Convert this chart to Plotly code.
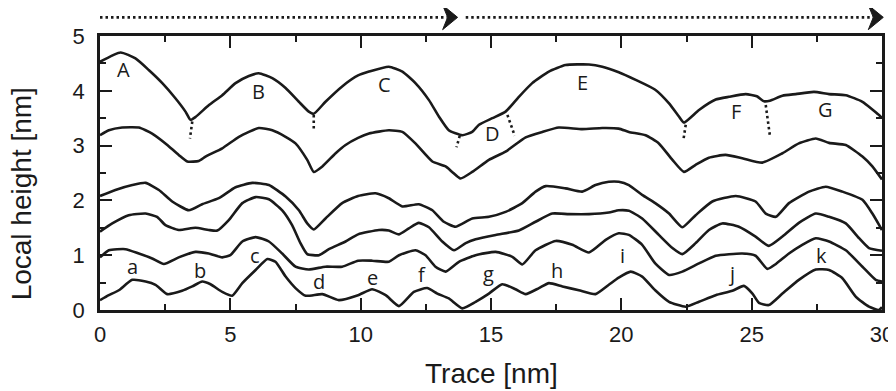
import plotly.graph_objects as go

# ---- data (nm) ----
x1 = [0.0, 0.79, 1.36, 1.87, 2.39, 2.90, 3.28, 3.47, 3.66, 4.18, 4.69, 5.20, 5.71, 6.09, 6.61, 7.12, 7.63, 8.01, 8.20, 8.65, 9.29, 9.9, 10.32, 11.08, 11.6, 12.1, 12.62, 13.0, 13.38, 13.9, 14.28, 14.54, 15.05, 15.56, 16.07, 16.58, 17.22, 17.86, 18.76, 19.27, 19.9, 20.55, 21.3, 21.83, 22.21, 22.4, 22.98, 23.62, 24.13, 24.77, 25.2, 25.47, 25.7, 26.18, 26.69, 27.39, 27.97, 28.61, 29.25, 29.88, 30.0]
y1 = [4.53, 4.70, 4.59, 4.38, 4.14, 3.86, 3.62, 3.47, 3.52, 3.74, 3.92, 4.14, 4.27, 4.32, 4.23, 4.05, 3.80, 3.62, 3.58, 3.80, 4.08, 4.28, 4.35, 4.44, 4.35, 4.14, 3.83, 3.53, 3.28, 3.19, 3.25, 3.38, 3.50, 3.62, 3.89, 4.14, 4.35, 4.47, 4.48, 4.44, 4.34, 4.20, 4.02, 3.77, 3.53, 3.42, 3.65, 3.84, 3.89, 3.94, 3.90, 3.81, 3.82, 3.91, 3.94, 3.98, 3.94, 3.92, 3.80, 3.56, 3.50]

x2 = [0.0, 0.34, 0.85, 1.49, 2.0, 2.51, 3.02, 3.35, 3.79, 4.05, 4.69, 5.33, 6.09, 6.61, 7.12, 7.50, 7.95, 8.2, 8.53, 9.04, 9.42, 9.9, 10.32, 11.08, 11.6, 12.1, 12.75, 13.26, 13.51, 13.83, 14.28, 14.92, 15.56, 16.33, 16.97, 17.6, 18.5, 19.27, 19.9, 20.29, 20.93, 21.44, 21.96, 22.4, 22.85, 23.36, 24.0, 24.64, 25.41, 26.18, 26.81, 27.46, 27.97, 28.61, 29.25, 29.63, 30.0]
y2 = [3.19, 3.28, 3.33, 3.33, 3.22, 3.04, 2.83, 2.71, 2.72, 2.80, 2.95, 3.16, 3.32, 3.28, 3.16, 3.04, 2.74, 2.52, 2.62, 2.86, 3.01, 3.14, 3.22, 3.28, 3.25, 3.04, 2.71, 2.62, 2.52, 2.40, 2.52, 2.74, 2.89, 3.15, 3.25, 3.33, 3.30, 3.32, 3.31, 3.25, 3.19, 3.04, 2.74, 2.52, 2.65, 2.78, 2.83, 2.77, 2.69, 2.86, 3.04, 3.13, 3.05, 3.01, 2.80, 2.62, 2.38]

x3 = [0.0, 0.59, 1.24, 1.75, 2.26, 2.77, 3.41, 3.92, 4.56, 5.2, 5.84, 6.48, 7.12, 7.63, 7.95, 8.2, 8.65, 9.29, 9.9, 10.57, 11.08, 11.6, 12.23, 12.75, 13.19, 13.64, 14.28, 14.92, 15.56, 16.2, 16.71, 17.1, 17.86, 18.5, 19.01, 19.52, 19.9, 20.29, 20.8, 21.3, 21.83, 22.34, 22.85, 23.49, 24.39, 25.15, 25.54, 25.93, 26.43, 27.2, 27.84, 28.48, 29.25, 29.63, 30.0]
y3 = [2.08, 2.19, 2.28, 2.32, 2.19, 1.98, 1.82, 1.93, 2.04, 2.24, 2.32, 2.28, 2.07, 1.82, 1.58, 1.47, 1.67, 1.95, 2.08, 2.13, 2.04, 1.89, 1.93, 1.82, 1.61, 1.52, 1.67, 1.70, 1.79, 1.95, 2.16, 2.26, 2.22, 2.16, 2.28, 2.34, 2.34, 2.28, 2.10, 1.95, 1.76, 1.51, 1.73, 1.98, 2.08, 1.98, 1.76, 1.70, 1.95, 2.16, 2.25, 2.16, 2.01, 1.76, 1.46]

x4 = [0.0, 0.47, 1.1, 1.75, 2.19, 2.51, 3.02, 3.66, 4.17, 4.5, 4.94, 5.46, 5.97, 6.48, 6.99, 7.37, 7.69, 7.95, 8.4, 8.78, 9.42, 9.9, 10.7, 11.08, 11.47, 11.85, 12.23, 12.62, 13.13, 13.58, 14.03, 14.41, 15.18, 16.07, 16.71, 17.35, 17.99, 18.76, 19.52, 19.9, 20.29, 20.8, 21.44, 21.96, 22.34, 22.85, 23.36, 23.87, 24.51, 25.15, 25.66, 26.18, 26.81, 27.46, 27.97, 28.61, 29.12, 29.5, 30.0]
y4 = [1.43, 1.58, 1.73, 1.76, 1.70, 1.55, 1.46, 1.50, 1.46, 1.45, 1.64, 1.95, 2.06, 2.02, 1.82, 1.55, 1.22, 1.02, 1.00, 1.11, 1.25, 1.38, 1.46, 1.45, 1.38, 1.49, 1.59, 1.51, 1.25, 1.09, 1.22, 1.29, 1.37, 1.45, 1.61, 1.76, 1.75, 1.75, 1.78, 1.82, 1.81, 1.67, 1.37, 1.13, 1.02, 1.22, 1.46, 1.58, 1.52, 1.34, 1.17, 1.34, 1.59, 1.76, 1.70, 1.58, 1.31, 1.13, 1.08]

x5 = [0.0, 0.34, 0.98, 1.49, 2.0, 2.45, 3.02, 3.66, 4.17, 4.69, 5.0, 5.46, 5.97, 6.48, 6.99, 7.50, 8.01, 8.65, 9.29, 9.9, 10.44, 11.08, 11.47, 12.1, 12.49, 12.87, 13.26, 13.77, 14.41, 15.18, 15.82, 16.2, 16.71, 17.48, 18.12, 18.76, 19.4, 19.9, 20.29, 20.8, 21.3, 21.83, 22.34, 22.98, 23.62, 24.64, 25.15, 25.6, 25.93, 26.43, 26.94, 27.46, 27.97, 28.61, 29.25, 29.76, 30.0]
y5 = [0.96, 1.09, 1.11, 1.03, 0.94, 0.84, 0.96, 1.06, 1.03, 0.96, 1.00, 1.25, 1.33, 1.25, 1.03, 0.79, 0.74, 0.79, 0.79, 0.90, 0.90, 0.88, 1.00, 1.09, 1.00, 0.79, 0.70, 0.88, 1.00, 1.06, 0.97, 0.83, 1.09, 1.26, 1.19, 1.05, 1.28, 1.40, 1.37, 1.19, 0.85, 0.64, 0.70, 0.85, 0.99, 1.03, 0.99, 0.75, 0.84, 1.03, 1.19, 1.31, 1.25, 1.09, 0.79, 0.55, 0.52]

x6 = [0.0, 0.34, 0.72, 1.24, 1.75, 2.13, 2.58, 3.15, 3.54, 3.92, 4.24, 4.69, 5.07, 5.46, 5.97, 6.42, 6.73, 7.12, 7.50, 7.89, 8.53, 9.16, 9.9, 10.44, 10.96, 11.47, 12.04, 12.55, 12.94, 13.38, 13.9, 14.41, 14.92, 15.43, 15.94, 16.33, 16.84, 17.22, 17.74, 18.37, 19.01, 19.52, 19.9, 20.36, 20.8, 21.3, 21.83, 22.47, 22.98, 23.62, 24.26, 24.7, 25.03, 25.28, 25.66, 26.18, 26.81, 27.46, 27.97, 28.48, 29.0, 29.5, 29.88, 30.0]
y6 = [0.18, 0.27, 0.36, 0.55, 0.52, 0.46, 0.29, 0.35, 0.43, 0.52, 0.47, 0.33, 0.26, 0.49, 0.73, 0.93, 0.88, 0.61, 0.40, 0.26, 0.29, 0.18, 0.27, 0.38, 0.27, 0.07, 0.33, 0.40, 0.30, 0.21, 0.03, 0.15, 0.30, 0.47, 0.38, 0.29, 0.40, 0.49, 0.43, 0.36, 0.29, 0.46, 0.59, 0.70, 0.61, 0.36, 0.15, 0.06, 0.15, 0.27, 0.35, 0.44, 0.30, 0.13, 0.09, 0.30, 0.55, 0.74, 0.73, 0.58, 0.24, 0.06, 0.0, 0.05]

curves_x = [x1, x2, x3, x4, x5, x6]
curves_y = [y1, y2, y3, y4, y5, y6]

# dotted boundary markers (x start/end, y start/end)
mark_x0 = [3.54, 8.20, 13.80, 15.63, 22.47, 25.54]
mark_x1 = [3.45, 8.20, 13.68, 15.91, 22.38, 25.70]
mark_y0 = [3.44, 3.56, 3.18, 3.56, 3.38, 3.74]
mark_y1 = [3.13, 3.30, 2.97, 3.18, 3.10, 3.18]

upper_labels = ["A", "B", "C", "D", "E", "F", "G"]
upper_lx = [0.91, 6.09, 10.93, 15.05, 18.5, 24.39, 27.84]
upper_ly = [4.38, 3.98, 4.11, 3.22, 4.15, 3.62, 3.66]

lower_labels = ["a", "b", "c", "d", "e", "f", "g", "h", "i", "j", "k"]
lower_lx = [1.26, 3.82, 5.94, 8.42, 10.47, 12.36, 14.9, 17.54, 20.04, 24.23, 27.69]
lower_ly = [0.79, 0.73, 0.99, 0.52, 0.60, 0.64, 0.67, 0.73, 1.00, 0.67, 0.99]

x_ticks = [0, 5, 10, 15, 20, 25, 30]
y_ticks = [0, 1, 2, 3, 4, 5]

# scan arrows at top (in nm along the trace)
scan_start = [0.0, 14.03]
scan_tip = [13.72, 30.05]

INK = "#1a1a1a"
fig = go.Figure()
for cx, cy in zip(curves_x, curves_y):
    fig.add_trace(go.Scatter(x=cx, y=cy, mode="lines",
                             line=dict(color=INK, width=2.6, shape="spline", smoothing=0.5),
                             cliponaxis=False, showlegend=False, hoverinfo="skip"))
for a0, a1, b0, b1 in zip(mark_x0, mark_x1, mark_y0, mark_y1):
    fig.add_trace(go.Scatter(x=[a0, a1], y=[b0, b1], mode="lines",
                             line=dict(color=INK, width=2.6, dash="2.5px,3px"),
                             showlegend=False, hoverinfo="skip"))

annotations = []
for t, lx, ly in zip(upper_labels, upper_lx, upper_ly):
    annotations.append(dict(x=lx, y=ly, text=t, showarrow=False, xref="x", yref="y",
                            font=dict(family="Open Sans", size=20, color=INK)))
for t, lx, ly in zip(lower_labels, lower_lx, lower_ly):
    annotations.append(dict(x=lx, y=ly, text=t, showarrow=False, xref="x", yref="y",
                            font=dict(family="Open Sans", size=20, color=INK)))
annotations.append(dict(x=0.5, y=-0.23, xref="paper", yref="paper", text="Trace [nm]",
                        showarrow=False, xanchor="center", yanchor="middle",
                        font=dict(family="Liberation Sans", size=28, color=INK)))
annotations.append(dict(x=-0.1, y=0.425, xref="paper", yref="paper", text="Local height [nm]",
                        textangle=-90, showarrow=False, xanchor="center", yanchor="middle",
                        font=dict(family="Liberation Sans", size=28, color=INK)))

shapes = []
ay = 1.068
for s, tip in zip(scan_start, scan_tip):
    ps = s / 30.0
    pt = tip / 30.0
    back = pt - 15.0 / 782.0
    notch = pt - 10.0 / 782.0
    shapes.append(dict(type="line", xref="paper", yref="paper", x0=ps, x1=notch, y0=ay, y1=ay,
                       line=dict(color=INK, width=2.6, dash="2.5px,3px")))
    shapes.append(dict(type="path", xref="paper", yref="paper",
                       path=f"M{pt},{ay} L{back},{ay + 12.3/274} L{notch},{ay} L{back},{ay - 12.3/274} Z",
                       fillcolor=INK, line=dict(color=INK, width=1)))

axis_common = dict(showline=True, linewidth=2.6, linecolor=INK, mirror="ticks",
                   ticks="inside", ticklen=12, tickwidth=2, tickcolor=INK,
                   showgrid=False, zeroline=False, automargin=False,
                   tickfont=dict(family="Liberation Sans", size=22, color=INK))

fig.update_xaxes(range=[0, 30], tickvals=x_ticks, ticklabelstandoff=3,
                 minor=dict(dtick=2.5, ticks="inside", ticklen=6, tickwidth=2, tickcolor=INK),
                 **axis_common)
fig.update_yaxes(range=[0, 5], tickvals=y_ticks, ticklabelstandoff=8,
                 minor=dict(dtick=0.5, ticks="inside", ticklen=6, tickwidth=2, tickcolor=INK),
                 **axis_common)

# page body has an 8px default margin, so the figure is 8px smaller and offsets compensate
fig.update_layout(width=888, height=383, margin=dict(l=92, r=14, t=28, b=81),
                  plot_bgcolor="white", paper_bgcolor="white",
                  annotations=annotations, shapes=shapes, showlegend=False)

fig.write_html("out.html")
